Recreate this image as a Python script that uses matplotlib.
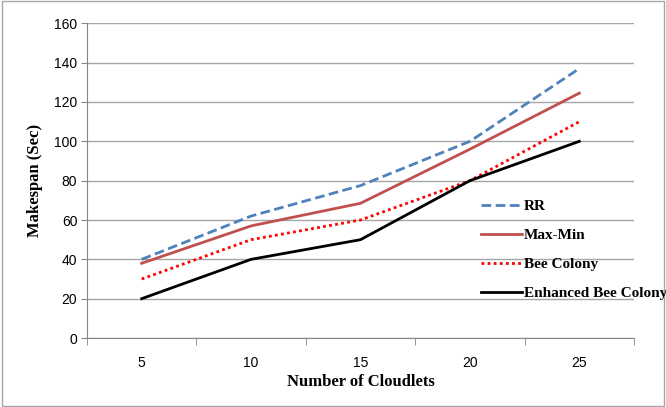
import matplotlib
matplotlib.use("Agg")
import matplotlib.pyplot as plt
from matplotlib.patches import Rectangle

# data
cloudlets = [5, 10, 15, 20, 25]
rr = [40, 62, 77.5, 100, 137]
max_min = [38, 57, 68.5, 96, 124.5]
bee_colony = [30, 50, 60, 80, 110]
enhanced_bee = [20, 40, 50, 80, 100]
y_ticks = [0, 20, 40, 60, 80, 100, 120, 140, 160]

fig = plt.figure(figsize=(6.66, 4.07), dpi=100)
ax = fig.add_axes([0.1306, 0.1695, 0.8214, 0.7732])

# light border round the whole picture
fig.patches.append(Rectangle((0.003, 0.003), 0.994, 0.994, transform=fig.transFigure,
                             fill=False, edgecolor="#a6a6a6", linewidth=1.0))

pos = list(range(len(cloudlets)))
ax.plot(pos, rr, color="#4f81bd", linewidth=2.0, linestyle=(0, (3.5, 1.6)), label="RR")
ax.plot(pos, max_min, color="#c0504d", linewidth=2.0, label="Max-Min")
ax.plot(pos, bee_colony, color="#ff0000", linewidth=2.0, linestyle=(0, (1, 1.2)), label="Bee Colony")
ax.plot(pos, enhanced_bee, color="black", linewidth=2.0, label="Enhanced Bee Colony")

ax.set_xlim(-0.5, len(cloudlets) - 0.5)
ax.set_ylim(0, 160)
ax.set_yticks(y_ticks)
ax.set_xticks(pos)
ax.set_xticklabels([str(c) for c in cloudlets], fontsize=10, family="Liberation Sans")
ax.set_xticks([p - 0.5 for p in pos] + [len(cloudlets) - 0.5], minor=True)
ax.tick_params(axis="x", which="major", length=0, pad=13)
ax.tick_params(axis="x", which="minor", length=5, color="#868686", direction="out")
ax.tick_params(axis="y", length=4, color="#868686", direction="out", pad=3)
for lab in ax.get_yticklabels():
    lab.set_fontsize(10)
    lab.set_family("Liberation Sans")

ax.grid(axis="y", color="#a6a6a6", linewidth=1.0)
ax.set_axisbelow(True)
for side in ["top", "right"]:
    ax.spines[side].set_visible(False)
for side in ["left", "bottom"]:
    ax.spines[side].set_color("#868686")

ax.set_xlabel("Number of Cloudlets", fontsize=12, fontweight="bold", family="Liberation Serif", labelpad=3)
ax.set_ylabel("Makespan (Sec)", fontsize=12, fontweight="bold", family="Liberation Serif", labelpad=8)

fig.legend(loc="upper left", bbox_to_anchor=(0.713, 0.525), frameon=False,
           prop={"family": "Liberation Serif", "weight": "bold", "size": 11},
           handlelength=2.7, handletextpad=0.1, labelspacing=1.0, borderaxespad=0)

fig.savefig("out.png", dpi=100)
